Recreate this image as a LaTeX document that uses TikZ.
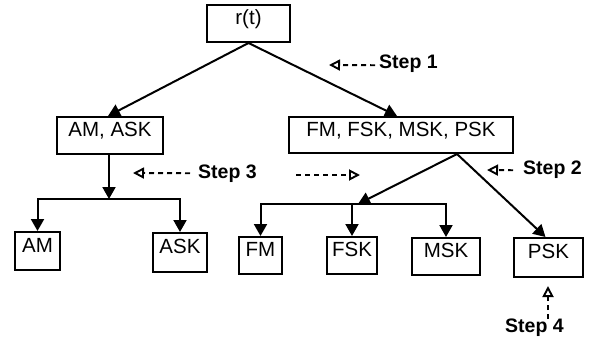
\documentclass[tikz,border=0pt]{standalone}
\usepackage{fontspec}
\setmainfont{Liberation Sans}
\usetikzlibrary{arrows.meta,calc}
\begin{document}
\begin{tikzpicture}[x=1pt,y=-1pt,
  box/.style={draw, line width=2pt, inner sep=0pt,
    font=\fontsize{20.5}{24}\selectfont, text height=14pt, text depth=12pt},
  conn/.style={line width=2pt},
  arr/.style={conn, -{Triangle[length=12pt,width=13pt]}},
  steptext/.style={inner sep=0pt, font=\fontsize{19.5}{24}\selectfont\bfseries},
  steparr/.style={line width=1.9pt, dash pattern=on 5pt off 4pt,
    -{Triangle[open,length=11pt,width=11pt]}}]
\useasboundingbox (0,0) rectangle (600,346);

% boxes
\node[box, minimum width=83pt, minimum height=37pt] (rt) at (248.5,23.5) {r(t)};
\node[box, minimum width=106pt, minimum height=37pt] (amask) at (110,135.5) {AM, ASK};
\node[box, minimum width=224pt, minimum height=36pt] (fmbox) at (401,135) {FM, FSK, MSK, PSK};
\node[box, minimum width=45pt, minimum height=38pt] (am) at (37.5,251) {AM};
\node[box, minimum width=54pt, minimum height=39pt] (ask) at (180,252.5) {ASK};
\node[box, minimum width=43pt, minimum height=37pt] (fm) at (260.5,255.5) {FM};
\node[box, minimum width=50pt, minimum height=37pt] (fsk) at (352,255.5) {FSK};
\node[box, minimum width=68pt, minimum height=37pt] (msk) at (446,256.5) {MSK};
\node[box, minimum width=69pt, minimum height=39pt] (psk) at (548.5,257.5) {PSK};

% top level
\draw[arr] (rt.south) -- ([xshift=-2pt]amask.north);
\draw[arr] (rt.south) -- ([xshift=-4pt]fmbox.north);

% left group
\coordinate (j1) at (109,199);
\draw[arr] ([xshift=-1pt]amask.south) -- (j1);
\draw[conn, line cap=rect] (am.north |- j1) -- (ask.north |- j1);
\draw[arr] (am.north |- j1) -- (am.north);
\draw[arr] (ask.north |- j1) -- (ask.north);

% right group
\coordinate (fb) at ([xshift=56pt]fmbox.south);
\coordinate (j2) at (358,204);
\draw[arr] (fb) -- (j2);
\draw[conn, line cap=rect] (fm.north |- j2) -- (msk.north |- j2);
\draw[arr] (fm.north |- j2) -- (fm.north);
\draw[arr] (fsk.north |- j2) -- (fsk.north);
\draw[arr] (msk.north |- j2) -- (msk.north);
\draw[arr] (fb) -- ([xshift=-3pt]psk.north);

% step labels
\node[steptext, anchor=base west] (s1) at (379,68) {Step 1};
\coordinate (t1) at (329,65);
\draw[steparr] ([xshift=-4pt,yshift=-2pt]s1.west) -- (t1);

\node[steptext, anchor=base west] (s3) at (198,178) {Step 3};
\coordinate (t3) at (133,173);
\draw[steparr] ([xshift=-8pt]s3.west) -- (t3);
\coordinate (r3a) at (296,175);
\coordinate (r3b) at (360,175);
\draw[steparr] (r3a) -- (r3b);

\node[steptext, anchor=base west] (s2) at (523,174) {Step 2};
\coordinate (t2) at (487,170);
\draw[steparr] ([xshift=-10pt,yshift=-1pt]s2.west) -- (t2);

\node[steptext, anchor=base west] (s4) at (505,332) {Step 4};
\coordinate (c4) at (548,319);
\coordinate (t4) at (548,286);
\draw[steparr] (c4) -- (t4);
\end{tikzpicture}
\end{document}
